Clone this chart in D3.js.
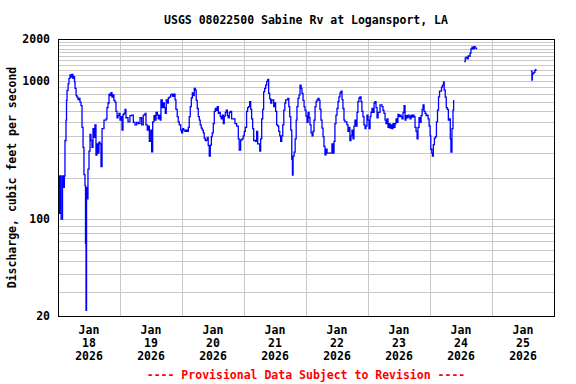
<!DOCTYPE html>
<html>
<head>
<meta charset="utf-8">
<script src="https://cdn.jsdelivr.net/npm/d3@7"></script>
<style>
  body { margin: 0; background: #fff; }
  text { font-family: "DejaVu Sans Mono", monospace; font-weight: bold; font-size: 11.5px; }
</style>
</head>
<body>
<div id="chart"></div>
<script>
// discharge readings, [hours after Jan 18 2026 00:00, cfs]
var mainRun = [
  [0,205],[0.4,110],[0.8,205],[1.2,100],[1.75,205],[2.1,170],[2.45,205],[2.7,370],[3.1,520],[3.3,720],
  [3.5,850],[3.9,950],[4.25,1040],[4.65,1100],[5.0,1060],[5.4,1110],[5.8,1040],[6.2,1070],[6.4,980],[6.6,880],
  [7.0,780],[7.35,760],[7.75,730],[8.1,745],[8.5,700],[8.9,660],[9.3,460],[9.7,330],[10.05,210],[10.45,175],
  [10.65,67],[10.85,22],[11.05,170],[11.2,140],[11.6,230],[12.0,310],[12.4,410],[12.75,370],[13.15,330],[13.55,450],
  [13.95,390],[14.3,480],[14.7,290],[15.1,350],[15.5,300],[15.85,360],[16.25,350],[16.65,240],[17.05,450],[17.8,520],
  [18.6,530],[18.95,640],[19.35,690],[19.75,800],[20.1,780],[20.5,820],[20.9,760],[21.3,790],[21.65,720],[22.05,700],
  [22.45,600],[22.85,540],[23.2,560],[23.6,580],[24.0,520],[24.4,550],[24.8,440],[25.15,570],[25.55,580],[25.95,620],
  [26.3,540],[27.1,505],[27.85,560],[28.5,565],[29.15,500],[29.8,480],[30.45,500],[31.1,490],[31.75,540],[32.4,480],
  [33.0,565],[33.7,580],[34.05,480],[34.55,440],[34.95,470],[35.35,365],[35.9,440],[36.25,306],[36.65,505],[37.15,560],
  [37.55,520],[37.95,590],[38.45,565],[38.8,530],[39.2,565],[39.6,520],[39.85,726],[40.35,640],[40.75,690],[41.15,640],
  [41.55,580],[41.9,726],[42.45,690],[42.7,750],[43.05,762],[43.6,790],[44.0,800],[44.4,770],[44.9,800],[45.3,726],
  [45.65,620],[46.15,550],[46.55,505],[46.95,480],[47.5,440],[47.85,420],[48.25,450],[48.65,440],[49.15,430],[49.65,440],
  [50.05,430],[50.45,460],[50.8,550],[51.2,650],[51.6,750],[52.0,815],[52.4,780],[52.75,880],[53.15,856],[53.5,720],
  [53.9,630],[54.3,550],[54.7,520],[55.05,480],[55.45,455],[55.85,440],[56.25,420],[56.6,385],[57.0,370],[57.4,373],
  [57.8,390],[58.15,340],[58.55,285],[58.95,343],[59.35,395],[59.7,420],[60.1,490],[60.5,600],[60.9,630],[61.25,610],
  [61.65,650],[62.05,580],[62.45,590],[62.8,550],[63.2,530],[63.6,565],[64.0,490],[64.35,555],[64.75,590],[65.15,614],
  [65.55,560],[65.9,540],[66.3,590],[66.7,600],[67.2,530],[67.85,530],[68.5,490],[69.15,470],[69.8,380],[70.15,316],
  [70.7,373],[71.2,380],[71.7,400],[72.1,430],[72.5,460],[73.0,600],[73.4,640],[73.8,650],[74.2,705],[74.6,620],
  [74.95,530],[75.35,450],[75.75,370],[76.5,365],[76.9,430],[77.3,350],[78.1,310],[78.45,380],[78.85,530],[79.25,620],
  [79.6,830],[80.0,880],[80.4,930],[80.8,990],[81.2,1020],[81.55,810],[81.95,740],[82.35,690],[82.75,726],[83.5,650],
  [83.9,690],[84.25,600],[84.65,480],[85.05,470],[85.45,430],[85.85,400],[86.2,365],[86.6,400],[87.0,480],[87.4,614],
  [87.8,690],[88.15,726],[88.95,745],[89.35,650],[89.7,550],[90.1,440],[90.5,270],[90.75,208],[91.0,285],[91.4,305],
  [91.8,380],[92.2,520],[92.5,650],[92.9,745],[93.3,790],[93.7,930],[94.1,880],[94.45,810],[94.85,720],[95.25,650],
  [95.6,614],[96.0,555],[96.4,500],[96.8,590],[97.2,540],[97.55,480],[97.95,420],[98.35,400],[98.7,430],[99.1,520],
  [99.5,650],[99.9,705],[100.25,726],[100.65,745],[101.05,720],[101.4,620],[101.8,520],[102.2,455],[102.6,395],[102.95,335],
  [103.35,292],[103.75,320],[104.15,300],[104.5,300],[104.9,300],[105.3,300],[105.65,300],[106.05,350],[106.45,300],[106.85,365],
  [107.2,490],[107.6,565],[108.0,630],[108.4,705],[108.75,765],[109.15,815],[109.55,840],[109.95,730],[110.3,630],[110.7,520],
  [111.1,505],[111.85,480],[112.25,430],[112.65,460],[113.0,370],[113.4,400],[113.8,440],[114.2,380],[114.55,470],[114.95,520],
  [115.35,470],[115.75,590],[116.1,705],[116.5,750],[116.9,765],[117.3,705],[117.65,600],[118.05,550],[118.45,480],[118.85,450],
  [119.2,470],[119.6,565],[120.0,520],[120.4,450],[120.8,550],[121.15,590],[121.55,630],[121.95,590],[122.35,690],[122.7,705],
  [123.1,640],[123.5,540],[123.9,590],[124.65,670],[125.4,650],[125.8,610],[126.2,580],[126.6,520],[126.95,490],[127.35,530],
  [127.75,460],[128.15,490],[128.5,455],[128.9,480],[129.3,450],[129.7,490],[130.05,460],[130.45,490],[130.85,530],[131.25,500],
  [131.6,570],[132.0,550],[132.4,565],[132.8,550],[133.15,530],[133.55,590],[133.95,660],[134.35,520],[134.7,560],[135.1,540],
  [135.5,565],[135.9,550],[136.25,530],[136.65,565],[137.05,545],[137.45,565],[137.8,550],[138.2,460],[138.6,430],[139.0,380],
  [139.35,460],[139.75,540],[140.15,500],[140.55,560],[140.95,620],[141.3,670],[141.7,600],[142.1,580],[142.5,560],[142.9,565],
  [143.25,530],[143.65,470],[144.05,400],[144.3,320],[144.7,300],[144.95,285],[145.3,345],[145.7,385],[146.1,395],[146.5,505],
  [146.9,614],[147.3,765],[147.7,840],[148.1,840],[148.45,900],[148.85,930],[149.25,980],[149.5,856],[149.9,760],[150.3,640],
  [150.7,620],[151.1,520],[151.45,530],[151.85,380],[152.1,305],[152.5,450],[152.9,614],[153.15,726]
];
var secondRun = [
  [157.25,1371],[157.65,1459],[158.05,1480],[158.4,1440],[158.8,1513],[159.2,1500],[159.5,1584],
  [159.85,1694],[160.25,1750],[160.65,1700],[161.05,1760],[161.45,1720],[162.0,1690]
];
var thirdRun = [
  [183.05,1175],[183.45,1012],[183.6,1110],[183.85,1135],[184.25,1150],[184.6,1190],[185.0,1214]
];
var dayNumbers = [18, 19, 20, 21, 22, 23, 24, 25];
var yLabels = [20, 100, 1000, 2000];
var minorGrid = [30,40,50,60,70,80,90,100,200,300,400,500,600,700,800,900,1000,
                 1100,1200,1300,1400,1500,1600,1700,1800,1900];

var width = 576, height = 384;
var margin = {top: 39, right: 22, bottom: 68, left: 58};
var start = new Date(2026, 0, 18);
var end = new Date(2026, 0, 26);
var hour = 3600 * 1000;

var svg = d3.select("#chart").append("svg")
    .attr("width", width)
    .attr("height", height);

var x = d3.scaleTime()
    .domain([start, end])
    .range([margin.left, width - margin.right]);
var y = d3.scaleLog()
    .domain([20, 2000])
    .range([height - margin.bottom, margin.top]);

// grid
svg.append("g").selectAll("line.h")
    .data(minorGrid)
    .enter().append("line")
    .attr("x1", margin.left).attr("x2", width - margin.right)
    .attr("y1", d => Math.round(y(d)) + 0.5).attr("y2", d => Math.round(y(d)) + 0.5)
    .style("stroke", "#c8c8c8").style("stroke-width", 1);

var midnights = d3.timeDay.range(d3.timeDay.offset(start, 1), end);
svg.append("g").selectAll("line.v")
    .data(midnights)
    .enter().append("line")
    .attr("x1", d => Math.round(x(d)) + 0.5).attr("x2", d => Math.round(x(d)) + 0.5)
    .attr("y1", margin.top).attr("y2", height - margin.bottom)
    .style("stroke", "#c8c8c8").style("stroke-width", 1);

// discharge line
var line = d3.line()
    .x(d => x(new Date(start.getTime() + d[0] * hour)))
    .y(d => y(d[1]))
    .curve(d3.curveStepAfter);

[mainRun, secondRun, thirdRun].forEach(function(run){
    svg.append("path")
        .datum(run)
        .attr("d", line)
        .style("fill", "none")
        .style("stroke", "#0000ff")
        .style("stroke-width", 1.3);
});

// frame
svg.append("rect")
    .attr("x", margin.left + 0.5).attr("y", margin.top + 0.5)
    .attr("width", width - margin.left - margin.right)
    .attr("height", height - margin.top - margin.bottom)
    .style("fill", "none").style("stroke", "#000").style("stroke-width", 1);

// y labels
svg.append("g").selectAll("text")
    .data(yLabels)
    .enter().append("text")
    .attr("x", 50)
    .attr("y", d => y(d))
    .attr("dy", "0.35em")
    .attr("text-anchor", "end")
    .text(d => d);

// x labels, three lines each, at noon
var xl = svg.append("g").selectAll("text")
    .data(dayNumbers)
    .enter().append("text")
    .attr("text-anchor", "middle")
    .attr("transform", d => "translate(" + x(new Date(2026, 0, d, 12)) + ",334)");
xl.append("tspan").attr("x", 0).attr("y", 0).text("Jan");
xl.append("tspan").attr("x", 0).attr("y", 13).text(d => d);
xl.append("tspan").attr("x", 0).attr("y", 26).text("2026");

// title
svg.append("text")
    .attr("x", (margin.left + width - margin.right) / 2)
    .attr("y", 24)
    .attr("text-anchor", "middle")
    .text("USGS 08022500 Sabine Rv at Logansport, LA");

// y axis title
svg.append("text")
    .attr("transform", "translate(16," + ((margin.top + height - margin.bottom) / 2) + ") rotate(-90)")
    .attr("text-anchor", "middle")
    .text("Discharge, cubic feet per second");

// provisional note
svg.append("text")
    .attr("x", (margin.left + width - margin.right) / 2)
    .attr("y", 379)
    .attr("text-anchor", "middle")
    .style("fill", "#ff0000")
    .text("---- Provisional Data Subject to Revision ----");
</script>
</body>
</html>
